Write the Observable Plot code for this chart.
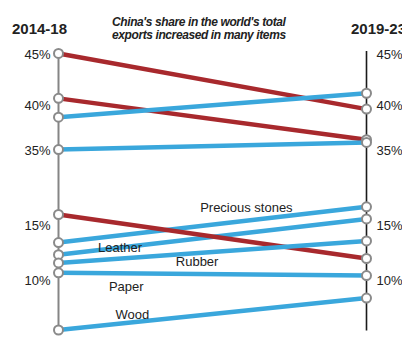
<!DOCTYPE html>
<html>
<head>
<meta charset="utf-8">
<script src="https://cdn.jsdelivr.net/npm/d3@7"></script>
<script src="https://cdn.jsdelivr.net/npm/@observablehq/plot@0.6"></script>
<style>
  html, body { margin: 0; padding: 0; background: #fff; }
  #wrap { position: relative; width: 402px; height: 355px; overflow: hidden; }
  #head { position: relative; height: 44px; }
  .period { position: absolute; top: 20px; font-weight: bold; font-size: 15px; line-height: 17px; color: #222; font-family: "Liberation Sans", sans-serif; white-space: nowrap; }
  #title { position: absolute; left: 112px; top: 16px; font-family: "Liberation Sans", sans-serif; font-style: italic; font-weight: bold; font-size: 12px; line-height: 13px; color: #222; white-space: nowrap; letter-spacing: -0.4px; }
</style>
</head>
<body>
<div id="wrap">
  <div id="head">
    <span class="period" id="p0" style="left:12px"></span>
    <span class="period" id="p1" style="left:351px"></span>
    <div id="title">China's share in the world's total<br>exports increased in many items</div>
  </div>
  <div id="chart"></div>
</div>
<script>
// ---- data ----
const periods = ["2014-18", "2019-23"];
const items = ["Upper A", "Upper B", "Upper C", "Upper D", "Precious stones", "Leather", "Rubber", "Item C", "Paper", "Wood"];
const share1418 = [45.1, 40.7, 38.7, 35.1, 13.45, 12.35, 16.0, 11.6, 10.7, 5.5];
const share1923 = [39.6, 36.2, 41.2, 35.9, 16.7, 15.6, 12.0, 13.6, 10.45, 8.4];
const trend = ["down", "down", "up", "up", "up", "up", "down", "up", "up", "up"];
const tickValues = [45, 40, 35, 15, 10];
const labelled = ["Precious stones", "Leather", "Rubber", "Paper", "Wood"];
// label placement along a line: [item the label follows, fraction along line, vertical offset]
const labelPlace = [["Precious stones", 0.61, -13], ["Leather", 0.2, 0], ["Item C", 0.45, 9], ["Paper", 0.22, 13], ["Wood", 0.24, -8]];

document.getElementById("p0").textContent = periods[0];
document.getElementById("p1").textContent = periods[1];

const rows = [];
items.forEach((it, i) => {
  rows.push({item: it, t: 0, share: share1418[i], dir: trend[i]});
  rows.push({item: it, t: 1, share: share1923[i], dir: trend[i]});
});
const labels = labelPlace.map(([it, f, dy], k) => {
  const i = items.indexOf(it);
  return {name: labelled[k], t: f, share: share1418[i] + (share1923[i] - share1418[i]) * f, dy};
});

const headH = 44;
const chart = Plot.plot({
  width: 402,
  height: 355 - headH,
  marginLeft: 0, marginRight: 0, marginTop: 0, marginBottom: 0,
  x: {type: "linear", domain: [0, 1], range: [58, 366], axis: null},
  // broken axis: lower band 5–17.5%, compressed gap, upper band 34–45%
  y: {type: "linear",
      domain: [5, 10, 15, 17.5, 34, 35, 40, 45],
      range: [335, 280, 225, 197.5, 159, 150, 105, 54].map(v => v - headH),
      axis: null},
  color: {domain: ["down", "up"], range: ["#a8292d", "#3aa7dc"]},
  style: {fontFamily: "'Liberation Sans', sans-serif", fontSize: "13px", color: "#222", background: "#fff"},
  marks: [
    Plot.ruleX([0], {x: d => d, y1: 5.15, y2: 45.3, stroke: "#858585", strokeWidth: 2}),
    Plot.ruleX([1], {x: d => d, y1: 5.4, y2: 45.3, stroke: "#1a1a1a", strokeWidth: 1.6}),
    Plot.line(rows, {x: "t", y: "share", z: "item", stroke: "dir", strokeWidth: 4.5, strokeLinecap: "butt"}),
    Plot.dot(rows, {x: "t", y: "share", r: 4.5, fill: "#fff", stroke: "#8a8a8a", strokeWidth: 2}),
    Plot.text(tickValues, {x: 0, y: d => d, text: d => d + "%", dx: -8, textAnchor: "end", fill: "#222"}),
    Plot.text(tickValues, {x: 1, y: d => d, text: d => d + "%", dx: 10, textAnchor: "start", fill: "#222"}),
    ...labels.map(l => Plot.text([l], {x: "t", y: "share", text: "name", dy: l.dy, fill: "#222"}))
  ]
});
document.getElementById("chart").appendChild(chart);
</script>
</body>
</html>
